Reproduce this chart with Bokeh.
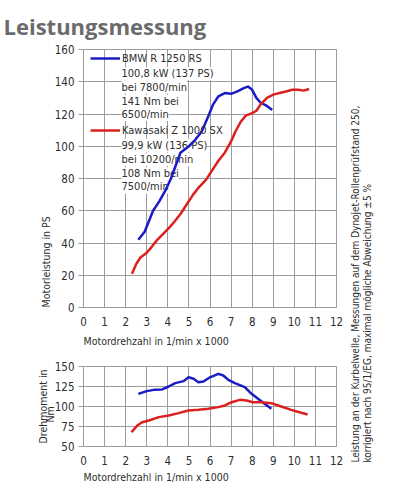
import math
from bokeh.plotting import figure
from bokeh.models import Label, Legend, LegendItem, FixedTicker, Range1d, Title
from bokeh.layouts import row, column
from bokeh.embed import file_html
from bokeh.resources import INLINE

# ---------------- data ----------------
title_text = "Leistungsmessung"

rpm_ticks = list(range(0, 13))
ps_ticks = [0, 20, 40, 60, 80, 100, 120, 140, 160]
nm_ticks = [50, 75, 100, 125, 150]

bmw_name = "BMW R 1250 RS"
bmw_info = ["100,8 kW (137 PS)", "bei 7800/min", "141 Nm bei", "6500/min"]
kawa_name = "Kawasaki Z 1000 SX"
kawa_info = ["99,9 kW (136 PS)", "bei 10200/min", "108 Nm bei", "7500/min"]

bmw_ps_rpm = [2.6, 2.9, 3.3, 3.6, 3.9, 4.15, 4.4, 4.6, 4.8, 5.0, 5.3, 5.6, 5.9, 6.15,
              6.4, 6.7, 7.0, 7.3, 7.6, 7.8, 8.0, 8.2, 8.4, 8.7, 8.95]
bmw_ps = [42, 47, 60, 66, 73, 80, 89, 96, 98, 100, 104, 109, 118, 126,
          131, 133, 132.5, 134, 136, 137, 135, 130, 127, 125, 122.5]

kawa_ps_rpm = [2.3, 2.5, 2.7, 3.0, 3.2, 3.5, 3.8, 4.1, 4.3, 4.6, 4.9, 5.2, 5.5, 5.8,
               6.1, 6.4, 6.7, 7.0, 7.2, 7.45, 7.7, 8.0, 8.2, 8.4, 8.7, 9.0, 9.3,
               9.6, 9.9, 10.2, 10.45, 10.7]
kawa_ps = [21, 27, 31, 34, 37, 42, 46, 50, 53, 58, 64, 70, 75, 79,
           85, 91, 96, 103, 109, 115, 119, 120.5, 122, 126, 130, 132, 133,
           134, 135, 135, 134.5, 135.5]

bmw_nm_rpm = [2.6, 3.0, 3.33, 3.73, 4.04, 4.35, 4.75, 4.98, 5.22, 5.45, 5.69, 6.0,
              6.4, 6.63, 6.87, 7.18, 7.65, 7.97, 8.28, 8.59, 8.91]
bmw_nm = [115.8, 119.2, 120.8, 121.3, 125, 129.2, 131.7, 136.5, 134.6, 130.4, 131.3, 136.5,
          140.8, 138.8, 133.3, 129.2, 124.2, 115.8, 109.6, 103.3, 97.1]

kawa_nm_rpm = [2.28, 2.55, 2.78, 3.1, 3.57, 4.04, 4.51, 4.98, 5.45, 5.92, 6.39, 6.71,
               7.02, 7.42, 7.73, 8.04, 8.44, 8.91, 9.38, 9.85, 10.24, 10.63]
kawa_nm = [67.9, 76.3, 80.4, 82.5, 86.7, 88.8, 91.7, 95, 95.8, 97.1, 99.2, 101.3,
           105.4, 108.3, 107.5, 105.4, 105.4, 104.2, 100, 95.8, 92.9, 90]

x_title = "Motordrehzahl in 1/min x 1000"
y_title_top = "Motorleistung in PS"
y_title_bot = ["Drehmoment in", "Nm"]
note_lines = ["Leistung an der Kurbelwelle, Messungen auf dem Dynojet-Rollenprüfstand 250,",
              "korrigiert nach 95/1/EG, maximal mögliche Abweichung ±5 %"]

# ---------------- style ----------------
BLUE = "#1c1cc6"
RED = "#dc2020"
GRID = "#9c9c9c"
TXT = "#2e2e2e"
NARROW = "DejaVu Sans Condensed"

TOP_W = 345
TOP_H = 352
BOT_H = 140
SIDE_W = 45

# frame geometry (page px)
T_L, T_R, T_T, T_B = 83, 336, 48, 307
def top_xy(px, py):
    return (px - T_L) / ((T_R - T_L) / 12.0), (T_B - py) / ((T_B - T_T) / 160.0)

B_L, B_R, B_T, B_B = 81, 336, 366, 446


def style(p, yticks):
    p.xgrid.ticker = FixedTicker(ticks=rpm_ticks)
    p.ygrid.ticker = FixedTicker(ticks=yticks)
    p.xaxis.ticker = FixedTicker(ticks=rpm_ticks)
    p.yaxis.ticker = FixedTicker(ticks=yticks)
    for g in (p.xgrid, p.ygrid):
        g.grid_line_color = GRID
        g.grid_line_width = 1
    p.outline_line_color = GRID
    p.outline_line_width = 1
    p.background_fill_color = "white"
    p.border_fill_color = "white"
    for ax in (p.xaxis, p.yaxis):
        ax.axis_line_color = None
        ax.major_tick_in = 0
        ax.minor_tick_line_color = None
        ax.major_label_text_font = NARROW
        ax.major_label_text_color = TXT
        ax.major_label_text_font_size = "11.5px"
    p.xaxis.major_tick_out = 0
    p.xaxis.major_label_standoff = 9
    p.yaxis.major_tick_out = 5
    p.yaxis.major_tick_line_color = GRID
    p.yaxis.major_label_standoff = 4


def side_title(p, text, where, offset=0, standoff=2, size="10.5px"):
    t = Title(text=text, align="left", offset=offset, standoff=standoff,
              text_font=NARROW, text_font_size=size, text_font_style="normal",
              text_color=TXT)
    p.add_layout(t, where)


# ---------------- top chart ----------------
top = figure(width=TOP_W, height=TOP_H, x_range=Range1d(0, 12), y_range=Range1d(0, 160),
             output_backend="svg", toolbar_location=None,
             min_border_left=T_L, min_border_right=TOP_W - T_R,
             min_border_top=T_T, min_border_bottom=TOP_H - T_B)
style(top, ps_ticks)
top.title.text = title_text
top.title.align = "left"
top.title.offset = 3 - T_L
top.title.text_font = "Open Sans"
top.title.text_font_size = "22px"
top.title.text_font_style = "bold"
top.title.text_color = "#6b6b6b"
top.title.standoff = 17

rb = top.line(bmw_ps_rpm, bmw_ps, line_color=BLUE, line_width=2.5, line_join="round")
rk = top.line(kawa_ps_rpm, kawa_ps, line_color=RED, line_width=2.5, line_join="round")

legend = Legend(items=[LegendItem(label=bmw_name, renderers=[rb]),
                       LegendItem(label=kawa_name, renderers=[rk])],
                location=(7, 170), padding=0, margin=0, spacing=58,
                glyph_width=30, glyph_height=14, label_height=14, label_standoff=2,
                background_fill_alpha=0, border_line_color=None,
                label_text_font=NARROW, label_text_font_size="11px",
                label_text_color=TXT)
top.add_layout(legend)

line_y_bmw = [72.3, 85.7, 100, 113.3]
line_y_kawa = [144, 158.3, 172.7, 186]
for t, py in list(zip(bmw_info, line_y_bmw)) + list(zip(kawa_info, line_y_kawa)):
    x, y = top_xy(121, py)
    top.add_layout(Label(x=x, y=y, text=t, text_font=NARROW, text_font_size="11px",
                         text_color=TXT, text_baseline="middle",
                         background_fill_color="white", level="underlay"))

side_title(top, x_title, "below", offset=0, standoff=8)
side_title(top, y_title_top, "left", offset=0, standoff=0)

# ---------------- bottom chart ----------------
bot = figure(width=TOP_W, height=BOT_H, x_range=Range1d(0, 12), y_range=Range1d(50, 150),
             output_backend="svg", toolbar_location=None,
             min_border_left=B_L, min_border_right=TOP_W - B_R,
             min_border_top=B_T - TOP_H, min_border_bottom=TOP_H + BOT_H - B_B)
style(bot, nm_ticks)
bot.line(bmw_nm_rpm, bmw_nm, line_color=BLUE, line_width=2.5, line_join="round")
bot.line(kawa_nm_rpm, kawa_nm, line_color=RED, line_width=2.5, line_join="round")

side_title(bot, x_title, "below", offset=0, standoff=2)
side_title(bot, y_title_bot[1], "left", offset=24, standoff=-9)
side_title(bot, y_title_bot[0], "left", offset=3, standoff=-4)

# ---------------- side note ----------------
side = figure(width=SIDE_W, height=TOP_H + BOT_H, x_range=Range1d(0, SIDE_W),
              y_range=Range1d(0, TOP_H + BOT_H), output_backend="svg", toolbar_location=None,
              x_axis_location=None, y_axis_location=None,
              min_border=0, min_border_left=0, min_border_right=0,
              min_border_top=0, min_border_bottom=0)
side.grid.visible = False
side.outline_line_color = None
side.border_fill_color = "white"
for xs, t in zip([10, 22], note_lines):
    side.add_layout(Label(x=xs, y=30, text=t, text_font=NARROW, text_font_size="10px",
                          text_color=TXT, text_baseline="middle", angle=math.pi / 2))

layout = row(column(top, bot, spacing=0), side, spacing=0)
open("out.html", "w").write(file_html(layout, INLINE))
